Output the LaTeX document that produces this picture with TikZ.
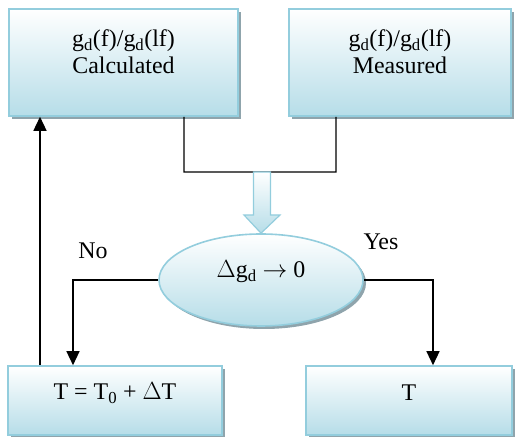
\documentclass[tikz,border=0pt]{standalone}
\usepackage{fontspec}
\setmainfont{Liberation Serif}
\usetikzlibrary{shapes.geometric, shadows, arrows.meta}
\definecolor{cadre}{HTML}{93CDDD}
\definecolor{fond}{HTML}{B6DDE8}
\definecolor{ombre}{HTML}{8FA4AC}
\begin{document}
\begin{tikzpicture}[x=1bp, y=1bp,
    every node/.style={font=\fontsize{24}{27}\selectfont},
    boite/.style={draw=cadre, line width=1.6bp, top color=white, bottom color=fond,
        drop shadow={shadow xshift=3bp, shadow yshift=-3bp, fill=ombre, opacity=1},
        inner sep=0pt},
    texte/.style={align=center, inner sep=0pt},
    fleche/.style={line width=1.4bp, -{Triangle[width=13bp, length=14bp]}},
    trait/.style={line width=1.4bp}]
    \useasboundingbox (0,0) rectangle (515,437);

    % Boites du haut
    \node[boite, minimum width=229bp, minimum height=107bp] (calc) at (123.5,374.5) {};
    \node[boite, minimum width=222bp, minimum height=107bp] (mes) at (400,374.5) {};
    \node[texte] (calctxt) at (123.5,385.5) {g\textsubscript{d}(f)/g\textsubscript{d}(lf)\\Calculated};
    \node[texte] (mestxt) at (400,385.5) {g\textsubscript{d}(f)/g\textsubscript{d}(lf)\\Measured};

    % Test
    \node[boite, ellipse, minimum width=204bp, minimum height=92bp] (test) at (261,157) {};
    \node[texte] (testtxt) at (261,165) {$\Delta$g\textsubscript{d} $\rightarrow$ 0};

    % Boites du bas
    \node[boite, minimum width=214bp, minimum height=69bp] (tzero) at (115,36.5) {};
    \node[boite, minimum width=206bp, minimum height=69bp] (tfin) at (409,36.5) {};
    \node[texte] (tzerotxt) at (115,44) {T = T\textsubscript{0} + $\Delta$T};
    \node[texte] (tfintxt) at (409,44) {T};

    % Crochet entre les deux boites
    \coordinate (coin) at (184,265);
    \draw[trait] ([xshift=60.5bp]calc.south) -- (coin) -| ([xshift=-64bp]mes.south);

    % Fleche large
    \draw[cadre, line width=1.2bp, top color=white, bottom color=fond]
        (253.5,265) -- (270.5,265) -- (270.5,222) -- (280,222) -- (test.north)
        -- (244,222) -- (253.5,222) -- cycle;

    % Sorties du test
    \draw[fleche] (test.west) -| ([xshift=-42bp]tzero.north);
    \draw[fleche] (test.east) -| ([xshift=24bp]tfin.north);
    \node (non) at (93,186) {No};
    \node (oui) at (381,195) {Yes};

    % Retour
    \draw[fleche] ([xshift=-75bp]tzero.north) -- ([xshift=-75bp]tzero.north |- calc.south);
\end{tikzpicture}
\end{document}
